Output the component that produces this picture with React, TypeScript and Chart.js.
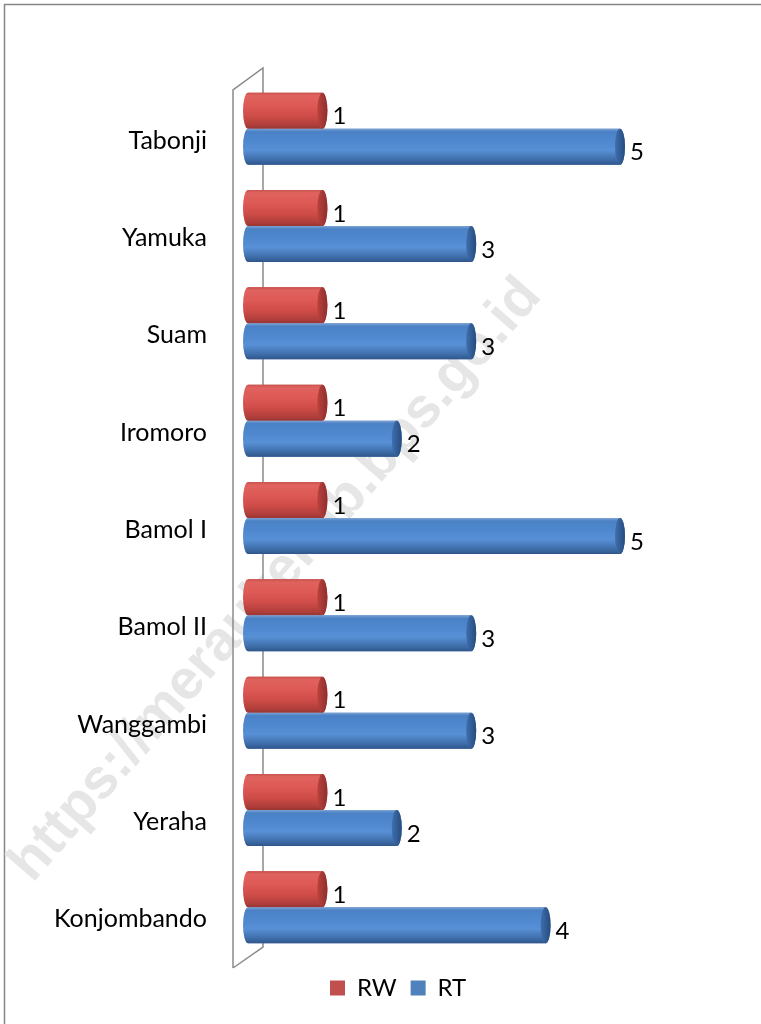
import React, { useEffect, useRef } from "react";
import { Chart, registerables } from "chart.js";

Chart.register(...registerables);

const categories = [
  "Tabonji",
  "Yamuka",
  "Suam",
  "Iromoro",
  "Bamol I",
  "Bamol II",
  "Wanggambi",
  "Yeraha",
  "Konjombando",
];
const rwValues = [1, 1, 1, 1, 1, 1, 1, 1, 1];
const rtValues = [5, 3, 3, 2, 5, 3, 3, 2, 4];
const seriesNames = ["RW", "RT"];
const xMin = 0;
const xMax = 5;
const watermarkText = "https://meraukekab.bps.go.id";

const FONT = "Lato, 'Open Sans', sans-serif";
const BASE_COLORS = ["#C0504D", "#4F81BD"];
const GRADS = [
  [
    [0, "#c9524e"],
    [0.08, "#e0625e"],
    [0.35, "#dd5a56"],
    [0.65, "#cf4c48"],
    [0.9, "#b03e3b"],
    [1, "#953532"],
  ],
  [
    [0, "#7ea3d3"],
    [0.08, "#4b82c6"],
    [0.35, "#4f88cf"],
    [0.6, "#5890d6"],
    [0.85, "#3f6fab"],
    [1, "#2f568a"],
  ],
];
const CAP_COLORS = [
  ["#b9423f", "#8f2f2c"],
  ["#3f6fae", "#274c7e"],
];

const RX = 5;
const LEGEND_START_X = 330;
const LEGEND_DROP = 6;

const framePlugin = {
  id: "frame",
  beforeDraw(chart: any) {
    const { ctx, width, height } = chart;
    ctx.save();
    ctx.fillStyle = "#ffffff";
    ctx.fillRect(0, 0, width, height);
    ctx.strokeStyle = "#868686";
    ctx.lineWidth = 1.5;
    ctx.strokeRect(4.5, 4.5, width + 40, height + 40);
    ctx.restore();

    // watermark (behind everything else)
    ctx.save();
    ctx.translate(276, 580);
    ctx.rotate((-49 * Math.PI) / 180);
    ctx.font = "bold 56px 'Liberation Sans', Arial, sans-serif";
    ctx.fillStyle = "#e6e6e6";
    ctx.textAlign = "center";
    ctx.textBaseline = "middle";
    ctx.fillText(watermarkText, 0, 0);
    ctx.restore();
  },
};

const legendShiftPlugin = {
  id: "legendShift",
  afterLayout(chart: any) {
    const lg = chart.legend;
    if (!lg || !lg.lineWidths) return;
    const pad = lg.options.labels.padding;
    const start = (lg.left + pad + lg.right - lg.lineWidths[0]) / 2;
    const d = LEGEND_START_X - start;
    lg.left += d;
    lg.right += d;
    lg.top += LEGEND_DROP;
    lg.bottom += LEGEND_DROP;
  },
};

const wallPlugin = {
  id: "wall3d",
  beforeDatasetsDraw(chart: any) {
    const { ctx, chartArea } = chart;
    const { left, top, bottom } = chartArea;
    ctx.save();
    ctx.strokeStyle = "#8a8a8a";
    ctx.lineWidth = 1.5;
    const fx = left - 15;
    const bx = left + 15;
    ctx.beginPath();
    ctx.moveTo(fx, bottom + 12);
    ctx.lineTo(fx, top + 10);
    ctx.lineTo(bx, top - 12);
    ctx.lineTo(bx, bottom - 9);
    ctx.lineTo(fx, bottom + 12);
    ctx.stroke();
    ctx.restore();
  },
};

const cylinderPlugin = {
  id: "cylinders",
  afterDatasetsDraw(chart: any) {
    const { ctx } = chart;
    ctx.save();
    chart.data.datasets.forEach((ds: any, di: number) => {
      const meta = chart.getDatasetMeta(di);
      if (meta.hidden) return;
      meta.data.forEach((el: any, i: number) => {
        const { x, y, base, height } = el.getProps(["x", "y", "base", "height"], true);
        const h = Math.abs(height);
        const t = y - h / 2;
        const b = y + h / 2;
        const ry = h / 2;
        const g = ctx.createLinearGradient(0, t, 0, b);
        GRADS[di].forEach(([p, c]: any) => g.addColorStop(p, c));
        ctx.beginPath();
        ctx.moveTo(base, t);
        ctx.lineTo(x, t);
        ctx.ellipse(x, y, RX, ry, 0, -Math.PI / 2, Math.PI / 2);
        ctx.lineTo(base, b);
        ctx.ellipse(base, y, RX, ry, 0, Math.PI / 2, (3 * Math.PI) / 2);
        ctx.closePath();
        ctx.fillStyle = g;
        ctx.fill();
        // right cap
        const cg = ctx.createLinearGradient(x - RX, 0, x + RX, 0);
        cg.addColorStop(0, CAP_COLORS[di][0]);
        cg.addColorStop(1, CAP_COLORS[di][1]);
        ctx.beginPath();
        ctx.ellipse(x, y, RX, ry, 0, 0, Math.PI * 2);
        ctx.fillStyle = cg;
        ctx.fill();
        // value label
        ctx.fillStyle = "#000000";
        ctx.font = `24px ${FONT}`;
        ctx.textAlign = "left";
        ctx.textBaseline = "middle";
        ctx.fillText(String(ds.data[i]), x + RX + 5, y + 6);
      });
    });
    ctx.restore();
  },
};

export default function App() {
  const canvasRef = useRef<HTMLCanvasElement | null>(null);

  useEffect(() => {
    if (!canvasRef.current) return;
    const chart = new Chart(canvasRef.current, {
      type: "bar",
      data: {
        labels: categories,
        datasets: [
          {
            label: seriesNames[0],
            data: rwValues,
            backgroundColor: BASE_COLORS[0],
            borderWidth: 0,
            barPercentage: 1,
            categoryPercentage: 0.74,
          },
          {
            label: seriesNames[1],
            data: rtValues,
            backgroundColor: BASE_COLORS[1],
            borderWidth: 0,
            barPercentage: 1,
            categoryPercentage: 0.74,
          },
        ],
      },
      options: {
        indexAxis: "y",
        responsive: false,
        animation: false,
        events: [],
        layout: { padding: { left: 0, top: 80, right: 141, bottom: 20 } },
        scales: {
          x: { display: false, min: xMin, max: xMax },
          y: {
            grid: { display: false, drawTicks: false },
            border: { display: false },
            ticks: {
              color: "#000000",
              font: { family: FONT, size: 25 },
              padding: 41,
              labelOffset: 12,
              autoSkip: false,
            },
            afterFit: (s: any) => {
              s.width = 248;
            },
          },
        },
        plugins: {
          tooltip: { enabled: false },
          legend: {
            position: "bottom",
            labels: {
              color: "#000000",
              font: { family: FONT, size: 24 },
              boxWidth: 15,
              boxHeight: 15,
              padding: 14,
            },
          },
        },
      },
      plugins: [framePlugin, legendShiftPlugin, wallPlugin, cylinderPlugin],
    });
    return () => chart.destroy();
  }, []);

  return (
    <div style={{ position: "fixed", left: 0, top: 0, width: 761, height: 1024 }}>
      <canvas ref={canvasRef} width={761} height={1024} style={{ width: 761, height: 1024, display: "block" }} />
    </div>
  );
}
